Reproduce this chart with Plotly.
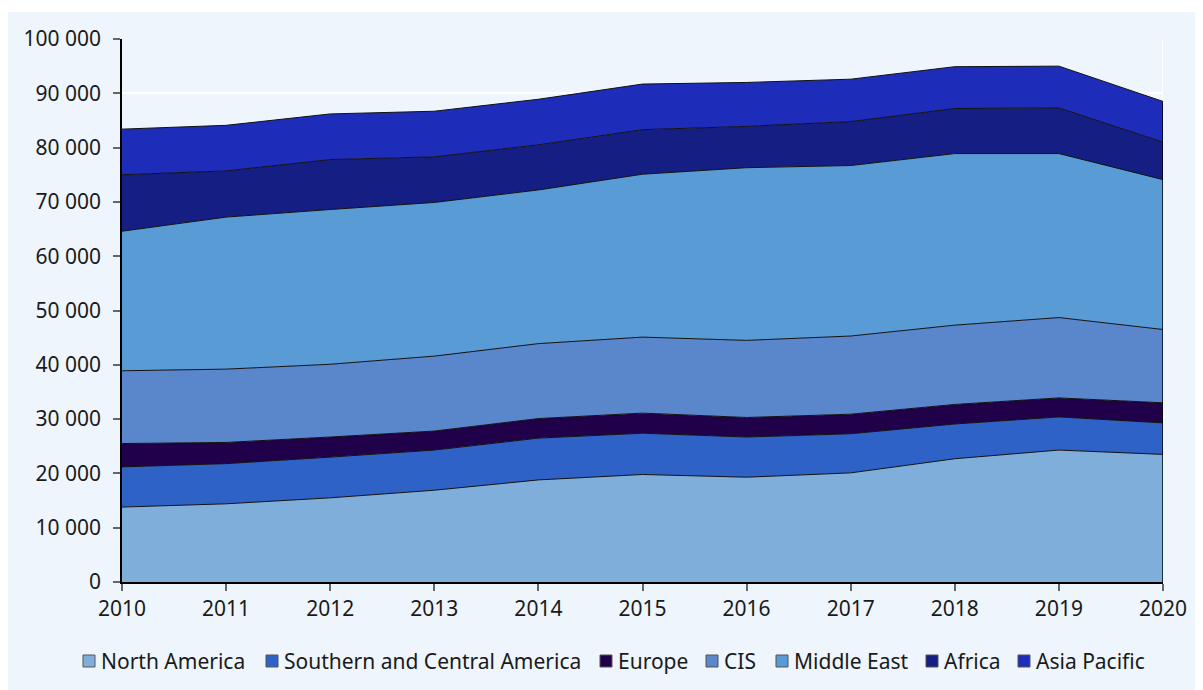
import plotly.graph_objects as go

years = [2010, 2011, 2012, 2013, 2014, 2015, 2016, 2017, 2018, 2019, 2020]

north_america = [13800, 14400, 15500, 16900, 18800, 19800, 19300, 20100, 22700, 24300, 23500]
south_central_america = [7400, 7400, 7500, 7400, 7700, 7600, 7400, 7200, 6400, 6100, 5800]
europe = [4300, 3900, 3700, 3500, 3600, 3700, 3600, 3600, 3600, 3500, 3700]
cis = [13400, 13500, 13400, 13800, 13800, 14000, 14200, 14400, 14600, 14800, 13500]
middle_east = [25700, 28000, 28500, 28300, 28300, 30000, 31800, 31400, 31600, 30200, 27600]
africa = [10400, 8500, 9200, 8400, 8300, 8200, 7600, 8100, 8300, 8400, 6900]
asia_pacific = [8400, 8400, 8400, 8400, 8400, 8400, 8100, 7800, 7700, 7700, 7500]

series_names = ["North America", "Southern and Central America", "Europe", "CIS",
                "Middle East", "Africa", "Asia Pacific"]
series_values = [north_america, south_central_america, europe, cis,
                 middle_east, africa, asia_pacific]
colors = ["#80aeda", "#2e62c6", "#21004a", "#5a86cb", "#589bd5", "#151e82", "#1e2cba"]

y_ticks = [0, 10000, 20000, 30000, 40000, 50000, 60000, 70000, 80000, 90000, 100000]

BG = "#eef5fc"
FONT = "Noto Sans"
FS = 21
TXT = "#1a1a1a"

# figure geometry (pixels)
W, H = 1195, 682
ML, MR, MT, MB = 114, 40, 31, 108
PW, PH = W - ML - MR, H - MT - MB

def px_x(p):
    return (p - ML) / PW

def px_y(p):
    return (H - MB - p) / PH

fig = go.Figure()

for name, vals, col in zip(series_names, series_values, colors):
    fig.add_trace(go.Scatter(
        x=years, y=vals, name=name, mode="lines", stackgroup="one",
        line=dict(color="#111111", width=1), fillcolor=col,
        showlegend=False, hoverinfo="x+y+name",
    ))

total_last = sum(v[-1] for v in series_values)

shapes = [
    dict(type="rect", xref="paper", yref="paper", x0=px_x(-10), x1=px_x(W + 10),
         y0=px_y(4), y1=px_y(-10), fillcolor="white", line=dict(width=0), layer="below"),
    dict(type="line", xref="x", yref="paper", x0=2020, x1=2020, y0=0, y1=1,
         line=dict(color="white", width=2), layer="below"),
    dict(type="line", xref="x", yref="y", x0=2020, x1=2020, y0=0, y1=total_last,
         line=dict(color="black", width=1.5), layer="above"),
]

# manual legend (pixel positions within the figure)
legend_square_left = [75, 258, 592, 698, 768, 918, 1010]
legend_y = 653
annotations = []
for name, col, sx in zip(series_names, colors, legend_square_left):
    shapes.append(dict(type="rect", xref="paper", yref="paper",
                       x0=px_x(sx), x1=px_x(sx + 12),
                       y0=px_y(legend_y + 6), y1=px_y(legend_y - 6),
                       fillcolor=col, line=dict(color="#555555", width=1)))
    annotations.append(dict(xref="paper", yref="paper", x=px_x(sx + 16), y=px_y(legend_y),
                            xanchor="left", yanchor="middle", showarrow=False,
                            text=name, font=dict(family=FONT, size=FS, color=TXT)))

fig.update_layout(
    width=W, height=H,
    margin=dict(l=ML, r=MR, t=MT, b=MB),
    paper_bgcolor=BG,
    plot_bgcolor=BG,
    separators=". ",
    font=dict(family=FONT, size=FS, color=TXT),
    showlegend=False,
    xaxis=dict(range=[2010, 2020], tickmode="array", tickvals=years,
               ticktext=[str(y) for y in years],
               showgrid=False, zeroline=False,
               showline=True, linecolor="black", linewidth=1.5,
               ticks="outside", ticklen=7, tickcolor="#666666", tickwidth=1.5),
    yaxis=dict(range=[0, 100000], tickmode="array", tickvals=y_ticks,
               tickformat=",d", showgrid=True, gridcolor="white", gridwidth=2,
               zeroline=False, showline=True, linecolor="black", linewidth=1.5,
               ticks="outside", ticklen=7, tickcolor="#666666", tickwidth=1.5,
               ticklabelstandoff=8),
    shapes=shapes,
    annotations=annotations,
)

fig.write_html("out.html")
